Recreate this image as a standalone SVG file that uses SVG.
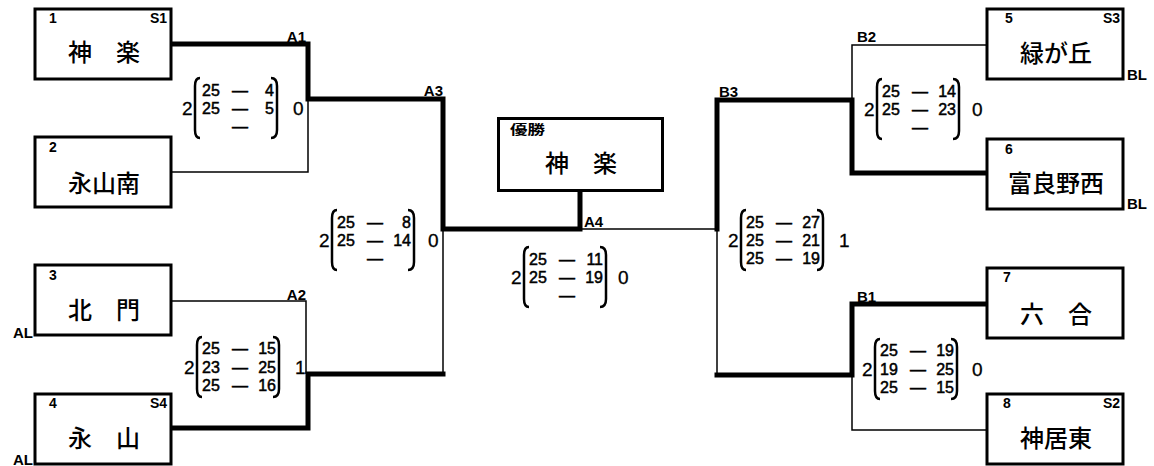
<svg xmlns="http://www.w3.org/2000/svg" width="1154" height="466" viewBox="0 0 1154 466">
<style>
text{font-family:"Liberation Sans","Noto Sans CJK JP",sans-serif;fill:#000}
.box{fill:#fff;stroke:#000;stroke-width:3}
.name{font-size:24px;text-anchor:middle;font-family:"Noto Sans CJK JP",sans-serif;font-weight:500}
.no{font-size:14px;font-weight:bold}
.seed{font-size:14px;text-anchor:end;font-weight:bold}
.lbl{font-size:15px;font-weight:bold}
.thick{fill:none;stroke:#000;stroke-width:5;stroke-linecap:square}
.thin{fill:none;stroke:#000;stroke-width:1.5}
.par{fill:none;stroke:#000;stroke-width:2.5}
.sc,.scr,.dash{font-size:16px;stroke:#000;stroke-width:0.5}
.scr{text-anchor:end}
.res{font-size:19px;stroke:#000;stroke-width:0.3}
</style>
<defs>
<g id="parens">
<path class="par" d="M17,-30 Q12,-30 12,-22 V22 Q12,30 17,30"/>
<path class="par" d="M88,-30 Q94,-30 94,-22 V22 Q94,30 88,30"/>
</g>
</defs>

<g id="connectors">
<path class="thick" d="M172,44 H308 V99 H443 V229 H580 V192"/>
<path class="thin" d="M172,172 H308 V99"/>
<path class="thin" d="M172,301 H306 V374"/>
<path class="thick" d="M172,428 H308 V374 H443"/>
<path class="thin" d="M443,229 V374"/>
<path class="thin" d="M580,229 H717"/>
<path class="thick" d="M717,229 V100 H852 V173 H987"/>
<path class="thin" d="M852,100 V45 H987"/>
<path class="thin" d="M717,229 V375"/>
<path class="thick" d="M717,375 H852 V304 H987"/>
<path class="thin" d="M852,375 V430 H987"/>
</g>

<g id="match-labels">
<text class="lbl" x="306" y="42" text-anchor="end">A1</text>
<text class="lbl" x="306" y="300" text-anchor="end">A2</text>
<text class="lbl" x="443" y="96" text-anchor="end">A3</text>
<text class="lbl" x="584" y="227">A4</text>
<text class="lbl" x="719" y="97">B3</text>
<text class="lbl" x="857" y="42">B2</text>
<text class="lbl" x="857" y="302">B1</text>
<text class="lbl" x="33" y="338" text-anchor="end">AL</text>
<text class="lbl" x="33" y="465" text-anchor="end">AL</text>
<text class="lbl" x="1127" y="80">BL</text>
<text class="lbl" x="1127" y="209">BL</text>
</g>

<g id="team1">
<rect class="box" x="35" y="9" width="136" height="70"/>
<text class="no" x="49" y="23">1</text>
<text class="seed" x="167" y="23">S1</text>
<text class="name" x="104" y="61">神　楽</text>
</g>
<g id="team2">
<rect class="box" x="35" y="137" width="136" height="70"/>
<text class="no" x="49" y="152">2</text>
<text class="name" x="104" y="192">永山南</text>
</g>
<g id="team3">
<rect class="box" x="35" y="265" width="136" height="70"/>
<text class="no" x="49" y="280">3</text>
<text class="name" x="104" y="319">北　門</text>
</g>
<g id="team4">
<rect class="box" x="35" y="394" width="136" height="70"/>
<text class="no" x="49" y="408">4</text>
<text class="seed" x="167" y="408">S4</text>
<text class="name" x="104" y="447">永　山</text>
</g>
<g id="team5">
<rect class="box" x="987" y="9" width="136" height="70"/>
<text class="no" x="1005" y="23">5</text>
<text class="seed" x="1120" y="23">S3</text>
<text class="name" x="1056" y="62">緑が丘</text>
</g>
<g id="team6">
<rect class="box" x="987" y="139" width="136" height="70"/>
<text class="no" x="1005" y="154">6</text>
<text class="name" x="1056" y="192">富良野西</text>
</g>
<g id="team7">
<rect class="box" x="987" y="268" width="136" height="70"/>
<text class="no" x="1003" y="282">7</text>
<text class="name" x="1056" y="323">六　合</text>
</g>
<g id="team8">
<rect class="box" x="987" y="394" width="136" height="70"/>
<text class="no" x="1003" y="408">8</text>
<text class="seed" x="1120" y="408">S2</text>
<text class="name" x="1056" y="447">神居東</text>
</g>
<g id="champion">
<rect class="box" x="498.5" y="118.5" width="164" height="72"/>
<text x="510" y="134" font-size="13" font-weight="bold" font-family="Noto Sans CJK JP, sans-serif" textLength="35" lengthAdjust="spacingAndGlyphs">優勝</text>
<text class="name" x="581" y="172">神　楽</text>
</g>

<g id="score-A1" transform="translate(183,108)">
<use href="#parens"/>
<text class="res" x="-1" y="7">2</text>
<text class="sc" x="19" y="-12">25</text><text class="dash" x="49" y="-12">—</text><text class="scr" x="91" y="-12">4</text>
<text class="sc" x="19" y="6">25</text><text class="dash" x="49" y="6">—</text><text class="scr" x="91" y="6">5</text>
<text class="dash" x="49" y="24">—</text>
<text class="res" x="110" y="7">0</text>
</g>
<g id="score-A2" transform="translate(185,367)">
<use href="#parens"/>
<text class="res" x="-1" y="7">2</text>
<text class="sc" x="17" y="-13">25</text><text class="dash" x="47" y="-13">—</text><text class="scr" x="91" y="-13">15</text>
<text class="sc" x="17" y="6">23</text><text class="dash" x="47" y="6">—</text><text class="scr" x="91" y="6">25</text>
<text class="sc" x="17" y="24">25</text><text class="dash" x="47" y="24">—</text><text class="scr" x="91" y="24">16</text>
<text class="res" x="110" y="7">1</text>
</g>
<g id="score-A3" transform="translate(320,240)">
<use href="#parens"/>
<text class="res" x="-1" y="7">2</text>
<text class="sc" x="17" y="-12">25</text><text class="dash" x="47" y="-12">—</text><text class="scr" x="91" y="-12">8</text>
<text class="sc" x="17" y="6">25</text><text class="dash" x="47" y="6">—</text><text class="scr" x="91" y="6">14</text>
<text class="dash" x="47" y="24">—</text>
<text class="res" x="108" y="7">0</text>
</g>
<g id="score-A4" transform="translate(512,277)">
<use href="#parens"/>
<text class="res" x="-1" y="7">2</text>
<text class="sc" x="17" y="-12">25</text><text class="dash" x="47" y="-12">—</text><text class="scr" x="91" y="-12">11</text>
<text class="sc" x="17" y="6">25</text><text class="dash" x="47" y="6">—</text><text class="scr" x="91" y="6">19</text>
<text class="dash" x="47" y="24">—</text>
<text class="res" x="106" y="7">0</text>
</g>
<g id="score-B3" transform="translate(729,240)">
<use href="#parens"/>
<text class="res" x="-1" y="7">2</text>
<text class="sc" x="17" y="-12">25</text><text class="dash" x="47" y="-12">—</text><text class="scr" x="91" y="-12">27</text>
<text class="sc" x="17" y="6">25</text><text class="dash" x="47" y="6">—</text><text class="scr" x="91" y="6">21</text>
<text class="sc" x="17" y="24">25</text><text class="dash" x="47" y="24">—</text><text class="scr" x="91" y="24">19</text>
<text class="res" x="110" y="7">1</text>
</g>
<g id="score-B2" transform="translate(865,109)">
<use href="#parens"/>
<text class="res" x="-1" y="7">2</text>
<text class="sc" x="17" y="-12">25</text><text class="dash" x="47" y="-12">—</text><text class="scr" x="91" y="-12">14</text>
<text class="sc" x="17" y="6">25</text><text class="dash" x="47" y="6">—</text><text class="scr" x="91" y="6">23</text>
<text class="dash" x="47" y="24">—</text>
<text class="res" x="107" y="7">0</text>
</g>
<g id="score-B1" transform="translate(863,369)">
<use href="#parens"/>
<text class="res" x="-1" y="7">2</text>
<text class="sc" x="17" y="-13">25</text><text class="dash" x="47" y="-13">—</text><text class="scr" x="91" y="-13">19</text>
<text class="sc" x="17" y="6">19</text><text class="dash" x="47" y="6">—</text><text class="scr" x="91" y="6">25</text>
<text class="sc" x="17" y="24">25</text><text class="dash" x="47" y="24">—</text><text class="scr" x="91" y="24">15</text>
<text class="res" x="109" y="7">0</text>
</g>
</svg>
